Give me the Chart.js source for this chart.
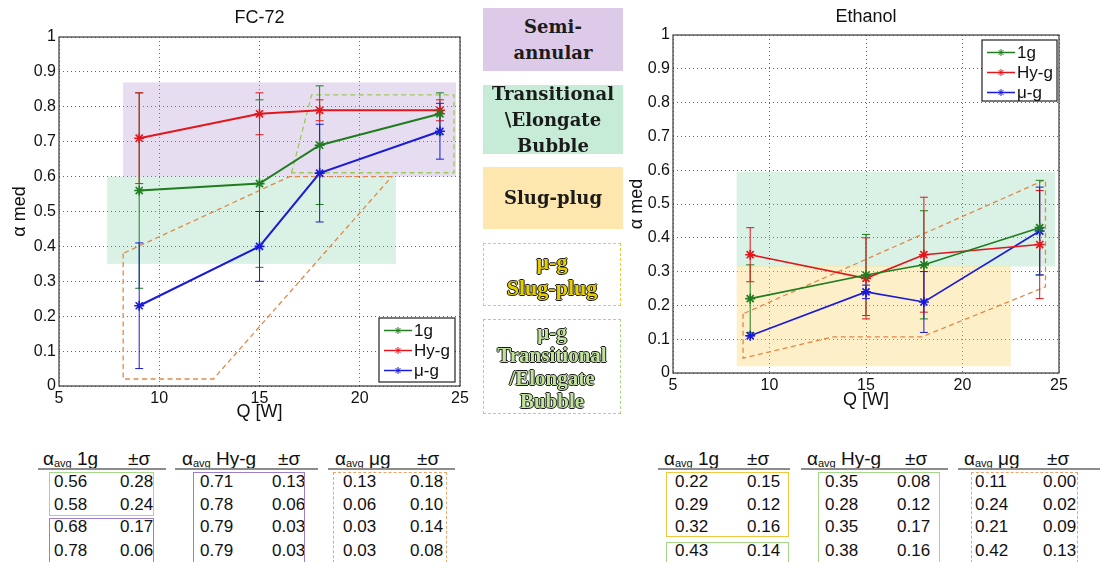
<!DOCTYPE html>
<html>
<head>
<meta charset="utf-8">
<script src="https://cdn.jsdelivr.net/npm/chart.js@4.4.1/dist/chart.umd.min.js"></script>
<style>
    body { margin: 0; width: 1105px; height: 562px; background: #fff; position: relative; overflow: hidden;
           font-family: "Liberation Sans", Arial, sans-serif; color: #111; }
    .plot { position: absolute; top: 0; }
    .key { position: absolute; left: 483px; width: 140px; box-sizing: border-box; display: flex;
           align-items: center; justify-content: center; text-align: center;
           font-family: "DejaVu Serif", serif; font-weight: bold; font-size: 18px; line-height: 26px; color: #1b1b1b; }
    .key.dash { width: 138px; font-family: "Liberation Serif", serif; font-size: 22px; line-height: 26px; }
    .outline-y { color: #e6cf00; text-shadow: -1px 0 #1a1a1a, 1px 0 #1a1a1a, 0 -1px #1a1a1a, 0 1px #1a1a1a; }
    .outline-g { color: #bfe39a; text-shadow: -1px 0 #1a1a1a, 1px 0 #1a1a1a, 0 -1px #1a1a1a, 0 1px #1a1a1a; }
    .cell { position: absolute; font-size: 17px; line-height: 22px; white-space: nowrap; }
    .head { font-size: 19px; }
    .head sub { font-size: 11px; vertical-align: -2px; }
    .rule { position: absolute; height: 2px; background: #8c8c8c; }
    .frame { position: absolute; box-sizing: border-box; }
</style>
</head>
<body>

<div class="plot" style="left:0px"><canvas id="fc72" width="475" height="432"></canvas></div>
<div class="plot" style="left:608px"><canvas id="ethanol" width="475" height="418"></canvas></div>

<div class="key" style="top:8px;height:63px;background:#dccae8">Semi-<br>annular</div>
<div class="key" style="top:85px;height:69px;background:#c6ebd6">Transitional<br>\Elongate<br>Bubble</div>
<div class="key" style="top:167px;height:62px;background:#fde7af">Slug-plug</div>
<div class="key dash outline-y" style="top:243px;height:63px;border:1.5px dashed #f2c640">μ-g<br>Slug-plug</div>
<div class="key dash outline-g" style="top:319px;height:95px;border:1.5px dashed #a9d67e;font-size:21px;line-height:23px">μ-g<br>Transitional<br>/Elongate<br>Bubble</div>

<div id="tables"></div>

<script>
// heat input [W]
const qW = [9, 15, 18, 24];

// FC-72: median void fraction and spread
const fc1g = [0.56, 0.58, 0.69, 0.78];
const fc1gSd = [0.28, 0.24, 0.17, 0.06];
const fcHyg = [0.71, 0.78, 0.79, 0.79];
const fcHygSd = [0.13, 0.06, 0.03, 0.03];
const fcMug = [0.23, 0.40, 0.61, 0.73];
const fcMugSd = [0.18, 0.10, 0.14, 0.08];

// Ethanol
const et1g = [0.22, 0.29, 0.32, 0.43];
const et1gSd = [0.10, 0.12, 0.16, 0.14];
const etHyg = [0.35, 0.28, 0.35, 0.38];
const etHygSd = [0.08, 0.12, 0.17, 0.16];
const etMug = [0.11, 0.24, 0.21, 0.42];
const etMugSd = [0.00, 0.02, 0.09, 0.13];

// flow regime zones, [xmin, xmax, ymin, ymax] in Q / alpha units
const fcSemiAnnular = [8.2, 24.8, 0.60, 0.87];
const fcTransitional = [7.4, 21.8, 0.35, 0.60];
const etTransitional = [8.3, 24.8, 0.315, 0.595];
const etSlugPlug = [8.3, 22.5, 0.02, 0.317];

// micro-g regime outlines, [Q, alpha] corners
const fcMugSlug = [[8.2, 0.38], [8.2, 0.02], [12.7, 0.02], [21.6, 0.60], [16.5, 0.60]];
const fcMugTrans = [[16.6, 0.611], [17.6, 0.834], [24.7, 0.834], [24.7, 0.611]];
const etMugSlug = [[8.63, 0.175], [8.63, 0.044], [13.3, 0.107], [17.9, 0.107], [24.3, 0.255], [24.3, 0.572]];

// table values: [alpha_avg, sigma]
const fcTab1g = [[0.56, 0.28], [0.58, 0.24], [0.68, 0.17], [0.78, 0.06]];
const fcTabHyg = [[0.71, 0.13], [0.78, 0.06], [0.79, 0.03], [0.79, 0.03]];
const fcTabMug = [[0.13, 0.18], [0.06, 0.10], [0.03, 0.14], [0.03, 0.08]];
const etTab1g = [[0.22, 0.15], [0.29, 0.12], [0.32, 0.16], [0.43, 0.14]];
const etTabHyg = [[0.35, 0.08], [0.28, 0.12], [0.35, 0.17], [0.38, 0.16]];
const etTabMug = [[0.11, 0.00], [0.24, 0.02], [0.21, 0.09], [0.42, 0.13]];

const GREEN = "#1f7d1f", RED = "#e3161c", BLUE = "#1a1ad8";
const FONT = '"Liberation Sans", Arial, sans-serif';
Chart.defaults.font.family = FONT;
Chart.defaults.color = "#111";

const zones = {
    id: "zones",
    beforeDatasetsDraw(chart, args, opts) {
        const { ctx, chartArea: a, scales: { x, y } } = chart;
        ctx.save();
        ctx.beginPath();
        ctx.rect(a.left, a.top, a.width, a.height);
        ctx.clip();
        opts.shade.forEach(z => {
            const l = x.getPixelForValue(z.box[0]), r = x.getPixelForValue(z.box[1]);
            const b = y.getPixelForValue(z.box[2]), t = y.getPixelForValue(z.box[3]);
            ctx.fillStyle = z.color;
            ctx.fillRect(l, t, r - l, b - t);
        });
        ctx.setLineDash([5, 3.5]);
        ctx.lineWidth = 1.3;
        opts.outline.forEach(p => {
            ctx.strokeStyle = p.color;
            ctx.beginPath();
            p.pts.forEach((c, i) => {
                const px = x.getPixelForValue(c[0]), py = y.getPixelForValue(c[1]);
                if (i) ctx.lineTo(px, py); else ctx.moveTo(px, py);
            });
            ctx.closePath();
            ctx.stroke();
        });
        ctx.restore();
    }
};

const errorBars = {
    id: "errorBars",
    beforeDatasetsDraw(chart) {
        const { ctx, scales: { x, y } } = chart;
        ctx.save();
        ctx.lineWidth = 1;
        chart.data.datasets.forEach(ds => {
            ctx.strokeStyle = ds.borderColor;
            ds.data.forEach((pt, i) => {
                const e = ds.errs[i];
                const px = x.getPixelForValue(pt.x);
                const top = y.getPixelForValue(pt.y + e), bot = y.getPixelForValue(pt.y - e);
                ctx.beginPath();
                ctx.moveTo(px, top); ctx.lineTo(px, bot);
                ctx.moveTo(px - 4, top); ctx.lineTo(px + 4, top);
                ctx.moveTo(px - 4, bot); ctx.lineTo(px + 4, bot);
                ctx.stroke();
            });
        });
        ctx.restore();
    }
};

function drawStar(ctx, cx, cy, r) {
    ctx.beginPath();
    ctx.moveTo(cx - r, cy); ctx.lineTo(cx + r, cy);
    ctx.moveTo(cx, cy - r); ctx.lineTo(cx, cy + r);
    const d = r * 0.7;
    ctx.moveTo(cx - d, cy - d); ctx.lineTo(cx + d, cy + d);
    ctx.moveTo(cx - d, cy + d); ctx.lineTo(cx + d, cy - d);
    ctx.stroke();
}

// axes box, titles and the boxed legend
const frame = {
    id: "frame",
    afterDraw(chart, args, opts) {
        const { ctx, chartArea: a } = chart;
        ctx.save();
        ctx.strokeStyle = "#3a3a3a";
        ctx.lineWidth = 1.2;
        ctx.strokeRect(a.left, a.top, a.width, a.height);

        ctx.fillStyle = "#111";
        ctx.font = "18px " + FONT;
        ctx.textAlign = "center";
        ctx.textBaseline = "middle";
        const cx = (a.left + a.right) / 2;
        ctx.fillText(opts.title, cx, opts.titleY);
        ctx.fillText("Q [W]", cx, a.bottom + opts.xTitleGap);
        ctx.save();
        ctx.translate(a.left - opts.yTitleGap, (a.top + a.bottom) / 2);
        ctx.rotate(-Math.PI / 2);
        ctx.fillText("α med", 0, 0);
        ctx.restore();

        const lg = opts.legend;
        const x0 = a.right - lg.right - lg.width;
        const y0 = lg.top != null ? a.top + lg.top : a.bottom - lg.bottom - lg.height;
        ctx.fillStyle = "#fff";
        ctx.fillRect(x0, y0, lg.width, lg.height);
        ctx.strokeStyle = "#222";
        ctx.strokeRect(x0, y0, lg.width, lg.height);
        ctx.font = "17px " + FONT;
        ctx.textAlign = "left";
        chart.data.datasets.forEach((ds, i) => {
            const yy = y0 + 12.5 + i * 20;
            ctx.strokeStyle = ds.borderColor;
            ctx.lineWidth = 1.5;
            ctx.beginPath();
            ctx.moveTo(x0 + 5, yy); ctx.lineTo(x0 + 33, yy);
            ctx.stroke();
            ctx.lineWidth = 1;
            drawStar(ctx, x0 + 19, yy, 3.5);
            ctx.fillStyle = "#111";
            ctx.fillText(ds.label, x0 + 35, yy + 1);
        });
        ctx.restore();
    }
};

function buildChart(id, series, opt) {
    return new Chart(document.getElementById(id), {
        type: "line",
        data: {
            datasets: series.map(s => ({
                label: s.label,
                data: qW.map((q, i) => ({ x: q, y: s.values[i] })),
                errs: s.sd,
                borderColor: s.color,
                backgroundColor: s.color,
                borderWidth: opt.lineWidth,
                pointStyle: "star",
                pointRadius: 5,
                pointBorderWidth: 1.6,
                tension: 0
            }))
        },
        options: {
            responsive: false,
            animation: false,
            layout: { padding: { left: 0, right: opt.padRight, top: opt.padTop, bottom: 0 } },
            plugins: {
                legend: { display: false },
                tooltip: { enabled: false },
                zones: { shade: opt.shade, outline: opt.outline },
                frame: { title: opt.title, titleY: opt.titleY, legend: opt.legend,
                         xTitleGap: opt.xTitleGap, yTitleGap: opt.yTitleGap }
            },
            scales: {
                x: {
                    type: "linear", min: 5, max: 25,
                    ticks: { stepSize: 5, font: { size: 16 }, padding: 3 },
                    grid: { color: "#666", drawTicks: false },
                    border: { display: false, dash: [1, 3] },
                    afterFit: s => { s.height = opt.xAxisH; }
                },
                y: {
                    min: 0, max: 1,
                    ticks: { stepSize: 0.1, font: { size: 16 }, padding: 3,
                             callback: v => String(Number(v.toFixed(1))) },
                    grid: { color: "#666", drawTicks: false },
                    border: { display: false, dash: [1, 3] },
                    afterFit: s => { s.width = opt.yAxisW; }
                }
            }
        },
        plugins: [zones, errorBars, frame]
    });
}

buildChart("fc72", [
    { label: "1g", values: fc1g, sd: fc1gSd, color: GREEN },
    { label: "Hy-g", values: fcHyg, sd: fcHygSd, color: RED },
    { label: "μ-g", values: fcMug, sd: fcMugSd, color: BLUE }
], {
    title: "FC-72", titleY: 18, lineWidth: 2,
    padTop: 37, padRight: 15, xAxisH: 46, yAxisW: 59, xTitleGap: 26, yTitleGap: 39,
    shade: [
        { box: fcSemiAnnular, color: "rgba(180,150,212,0.32)" },
        { box: fcTransitional, color: "rgba(120,210,160,0.28)" }
    ],
    outline: [
        { pts: fcMugSlug, color: "#e0894a" },
        { pts: fcMugTrans, color: "#9dc85a" }
    ],
    legend: { right: 5, bottom: 4, width: 76, height: 64 }
});

buildChart("ethanol", [
    { label: "1g", values: et1g, sd: et1gSd, color: GREEN },
    { label: "Hy-g", values: etHyg, sd: etHygSd, color: RED },
    { label: "μ-g", values: etMug, sd: etMugSd, color: BLUE }
], {
    title: "Ethanol", titleY: 17, lineWidth: 1.6,
    padTop: 35, padRight: 24, xAxisH: 45, yAxisW: 65, xTitleGap: 27, yTitleGap: 36,
    shade: [
        { box: etTransitional, color: "rgba(120,210,160,0.28)" },
        { box: etSlugPlug, color: "rgba(250,210,100,0.36)" }
    ],
    outline: [
        { pts: etMugSlug, color: "#e0894a" }
    ],
    legend: { right: 2, top: 5, width: 75, height: 61 }
});

// summary tables under the plots
const host = document.getElementById("tables");
const rowY = [471, 494, 516, 540];

function put(cls, x, y, html) {
    const d = document.createElement("div");
    d.className = cls;
    d.style.left = x + "px";
    d.style.top = y + "px";
    d.innerHTML = html;
    host.appendChild(d);
    return d;
}

function addTable(x0, w, head, cols, rows) {
    put("cell head", x0 + cols[0], 448, "α<sub>avg</sub> " + head);
    put("cell head", x0 + cols[1], 448, "±σ");
    const r = put("rule", x0, 468, "");
    r.style.width = w + "px";
    rows.forEach((v, i) => {
        put("cell", x0 + cols[2], rowY[i], v[0].toFixed(2));
        put("cell", x0 + cols[3], rowY[i], v[1].toFixed(2));
    });
}

function addFrame(x, y, w, h, border) {
    const f = put("frame", x, y, "");
    f.style.width = w + "px";
    f.style.height = h + "px";
    f.style.border = border;
}

addTable(38, 128, "1g", [5, 90, 16, 82], fcTab1g);
addTable(175, 143, "Hy-g", [7, 103, 25, 97], fcTabHyg);
addTable(328, 127, "μg", [7, 89, 15, 82], fcTabMug);
addTable(658, 132, "1g", [6, 89, 17, 89], etTab1g);
addTable(801, 147, "Hy-g", [6, 104, 24, 96], etTabHyg);
addTable(958, 142, "μg", [6, 89, 17, 85], etTabMug);

addFrame(49, 472, 105, 44, "1.5px solid #a6d88a");
addFrame(49, 518, 105, 50, "1.5px solid #9b7fc9");
addFrame(193, 472, 112, 96, "1.5px solid #9b7fc9");
addFrame(333, 472, 114, 96, "1.5px dashed #eea56a");
addFrame(666, 472, 123, 65, "1.5px solid #f0c842");
addFrame(666, 542, 123, 30, "1.5px solid #a6d88a");
addFrame(818, 472, 122, 96, "1.5px solid #a6d88a");
addFrame(971, 472, 107, 96, "1.5px dashed #eea56a");
</script>
</body>
</html>
